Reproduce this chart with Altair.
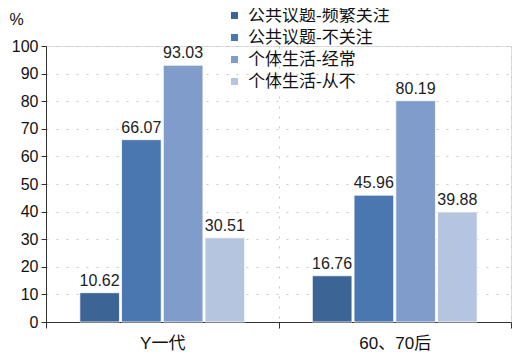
import altair as alt
import pandas as pd

categories = ["Y一代", "60、70后"]
series = ["公共议题-频繁关注", "公共议题-不关注", "个体生活-经常", "个体生活-从不"]
values_y = [10.62, 66.07, 93.03, 30.51]
values_6070 = [16.76, 45.96, 80.19, 39.88]
colors = ["#3C6596", "#4A77B0", "#7F9CCA", "#B5C5E0"]
y_ticks = [0, 10, 20, 30, 40, 50, 60, 70, 80, 90, 100]

rows = []
for cat, vals in zip(categories, [values_y, values_6070]):
    for s, v in zip(series, vals):
        rows.append({"cat": cat, "series": s, "value": v})
df = pd.DataFrame(rows)

FONT = "Liberation Sans, Noto Sans CJK SC"

y_enc = alt.Y("value:Q", scale=alt.Scale(domain=[0, 100]),
              axis=alt.Axis(title="%", titleAngle=0, titleX=-30, titleY=-19,
                            titleFontSize=16, titleFont=FONT, titleFontWeight="normal",
                            titleColor="#111", titleAlign="center",
                            values=y_ticks, labelOverlap=False,
                            labelFontSize=16,
                            labelFont=FONT, labelColor="#111", tickSize=5,
                            tickColor="#333", domainColor="#333", labelPadding=3,
                            grid=True, gridColor="#c8c8c8", gridDash=[2, 8]))

base = alt.Chart(df).encode(
    x=alt.X("cat:N", sort=categories,
            scale=alt.Scale(paddingInner=0, paddingOuter=0),
            axis=alt.Axis(title=None, labelAngle=0, labelFontSize=17, labelFont=FONT,
                          labelColor="#111", labelPadding=7, tickBand="extent",
                          tickSize=6, tickColor="#333", domainColor="#333",
                          grid=True, gridColor="#c8c8c8", gridDash=[2, 8])),
    xOffset=alt.XOffset("series:N", sort=series,
                        scale=alt.Scale(paddingInner=0.05, paddingOuter=0.81)),
    y=y_enc,
)

bars = base.mark_bar(stroke="white", strokeWidth=0.8).encode(
    color=alt.Color("series:N", sort=series,
                    scale=alt.Scale(domain=series, range=colors),
                    legend=alt.Legend(title=None, orient="none", legendX=180, legendY=-39,
                                      labelFontSize=17, labelFont=FONT, labelColor="#111",
                                      symbolType="square", symbolSize=49,
                                      symbolStrokeWidth=0, rowPadding=4,
                                      labelOffset=5, padding=0)),
)

labels = base.mark_text(dy=-12, fontSize=16, font=FONT, color="#222").encode(
    text=alt.Text("value:Q", format=".2f"),
)

chart = (bars + labels).properties(
    width=465, height=276,
    autosize=alt.AutoSizeParams(type="none"),
    padding={"left": 38, "top": 38, "right": 6, "bottom": 30},
).configure_view(stroke=None).configure(background="white")

chart.save("out.html", embed_options={"renderer": "svg", "actions": False})
